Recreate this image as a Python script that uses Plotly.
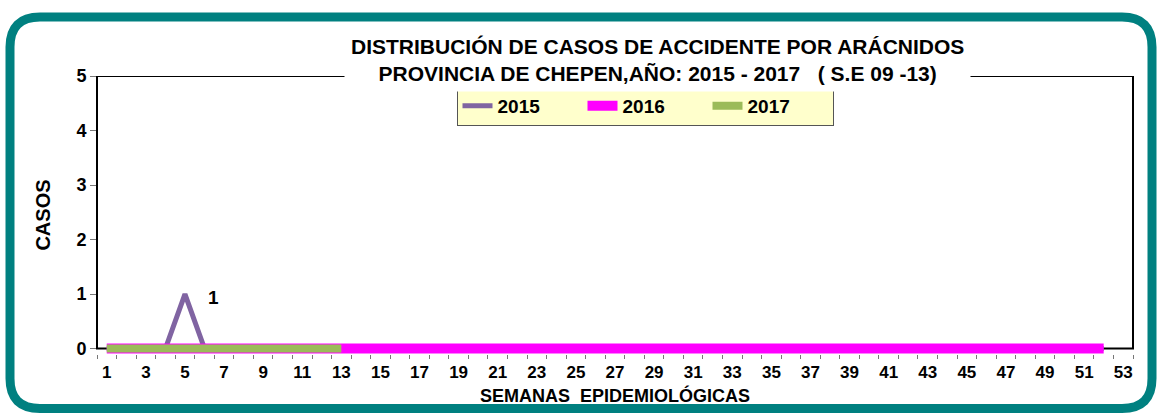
import plotly.graph_objects as go

weeks_2015 = list(range(1, 53))
cases_2015 = [0, 0, 0, 0, 1] + [0] * 47
weeks_2016 = list(range(1, 53))
cases_2016 = [0] * 52
weeks_2017 = list(range(1, 14))
cases_2017 = [0] * 13
x_ticks = list(range(1, 54, 2))
y_ticks = [0, 1, 2, 3, 4, 5]

W, H = 1157, 413
Y_MIN, Y_MAX = -0.1, 5
L, R, T = 97, 24, 76
UNIT = (349 - 76) / Y_MAX
BOTTOM = 349 + (-Y_MIN) * UNIT
B = H - BOTTOM
PW, PH = W - L - R, BOTTOM - T

def px(x):
    return (x - L) / PW

def py(y):
    return 1 - (y - T) / PH

FONT = "Liberation Sans, Arial, sans-serif"

fig = go.Figure()
fig.add_trace(go.Scatter(x=weeks_2015, y=cases_2015, mode="lines", name="2015",
                         line=dict(color="#8064a2", width=5)))
fig.add_trace(go.Scatter(x=weeks_2016, y=cases_2016, mode="lines", name="2016",
                         line=dict(color="#ff00ff", width=10)))
fig.add_trace(go.Scatter(x=weeks_2017, y=cases_2017, mode="lines", name="2017",
                         line=dict(color="#9bbb59", width=8)))

# rounded teal frame
x0, x1, y0, y1, r = 10, 1152, 17, 409, 30
path = (f"M {px(x0+r)},{py(y0)} L {px(x1-r)},{py(y0)} Q {px(x1)},{py(y0)} {px(x1)},{py(y0+r)} "
        f"L {px(x1)},{py(y1-r)} Q {px(x1)},{py(y1)} {px(x1-r)},{py(y1)} "
        f"L {px(x0+r)},{py(y1)} Q {px(x0)},{py(y1)} {px(x0)},{py(y1-r)} "
        f"L {px(x0)},{py(y0+r)} Q {px(x0)},{py(y0)} {px(x0+r)},{py(y0)} Z")

shapes = [
    dict(type="path", xref="paper", yref="paper", path=path,
         line=dict(color="#008080", width=9), layer="below"),
    dict(type="rect", xref="paper", yref="y", x0=0, x1=1, y0=0, y1=Y_MAX,
         line=dict(color="black", width=2), layer="below"),
]

fig.update_layout(
    width=W, height=H,
    margin=dict(l=L, r=R, t=T, b=B),
    paper_bgcolor="white", plot_bgcolor="white",
    font=dict(family=FONT, color="black"),
    shapes=shapes,
    showlegend=True,
    legend=dict(orientation="h", x=px(645), y=py(106), xanchor="center", yanchor="middle",
                bgcolor="#ffffcc", bordercolor="#555555", borderwidth=1,
                font=dict(family=FONT, size=19, color="black", weight="bold"),
                entrywidth=80, tracegroupgap=0),
    xaxis=dict(range=[0.5, 53.5], tickmode="array", tickvals=x_ticks, automargin=False,
               ticktext=[str(v) for v in x_ticks], ticks="", ticklabelstandoff=6,
               tickfont=dict(family=FONT, size=17, weight="bold"),
               showgrid=False, zeroline=False, showline=False,
               minor=dict(ticks="outside", tick0=0.5, dtick=1, ticklen=4, tickcolor="#777777",
                          showgrid=False),
               title=dict(text="SEMANAS  EPIDEMIOLÓGICAS", standoff=8,
                          font=dict(family=FONT, size=18, weight="bold"))),
    yaxis=dict(range=[Y_MIN, Y_MAX], tickvals=y_ticks, ticks="outside", ticklen=6, tickcolor="#777777",
               automargin=False,
               tickfont=dict(family=FONT, size=18, weight="bold"),
               showgrid=False, zeroline=False, showline=False,
               title=dict(text="CASOS", standoff=20, font=dict(family=FONT, size=20, weight="bold"))),
    annotations=[
        dict(xref="paper", yref="paper", x=px(657), y=py(60), xanchor="center", yanchor="middle",
             text="DISTRIBUCIÓN DE CASOS DE ACCIDENTE POR ARÁCNIDOS<br>PROVINCIA DE CHEPEN,AÑO: 2015 - 2017   ( S.E 09 -13)",
             showarrow=False, bgcolor="white", borderpad=6,
             font=dict(family=FONT, size=21, weight="bold", color="black")),
        dict(x=5, y=1, xref="x", yref="y", text="1", showarrow=False, xshift=29, yshift=-3,
             font=dict(family=FONT, size=19, weight="bold", color="black")),
    ],
)

fig.write_html("out.html", config={"displayModeBar": False},
               post_script="document.body.style.margin='0';document.body.style.overflow='hidden';")
